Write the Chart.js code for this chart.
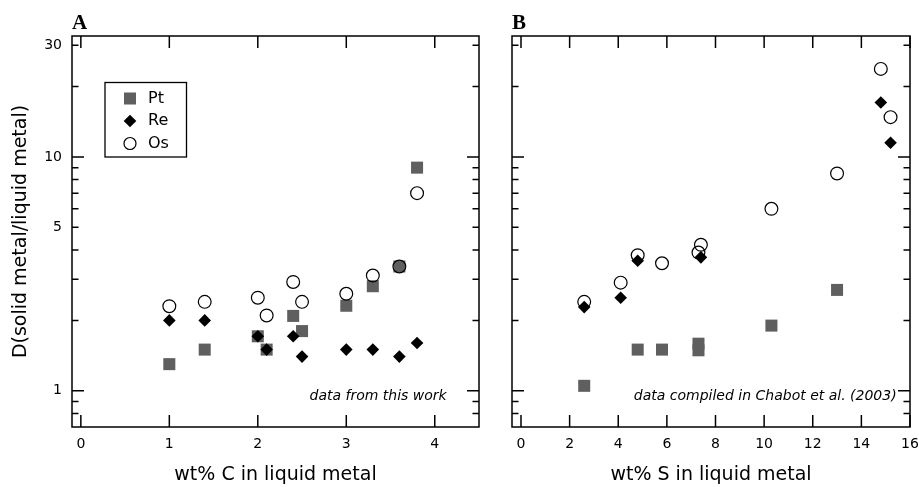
<!DOCTYPE html>
<html>
<head>
<meta charset="utf-8">
<script src="https://cdn.jsdelivr.net/npm/chart.js@4"></script>
<style>
  html, body { margin: 0; padding: 0; background: #fff; }
  #wrap { position: relative; width: 919px; height: 487px; }
  #chartA { position: absolute; left: 0; top: 0; }
  #chartB { position: absolute; left: 440px; top: 0; }
</style>
</head>
<body>
<div id="wrap">
  <canvas id="chartA" width="480" height="487"></canvas>
  <canvas id="chartB" width="479" height="487"></canvas>
</div>
<script>
// ==========================================
// DATA
// ==========================================
const seriesNames = ['Pt', 'Re', 'Os'];

// Panel A: wt% C in liquid metal (this work)
const cPt = [1.0, 1.4, 2.0, 2.1, 2.4, 2.5, 3.0, 3.3, 3.6, 3.8];
const dPtA = [1.30, 1.50, 1.71, 1.50, 2.09, 1.80, 2.31, 2.80, 3.40, 9.0];
const cRe = [1.0, 1.4, 2.0, 2.1, 2.4, 2.5, 3.0, 3.3, 3.6, 3.8];
const dReA = [2.0, 2.0, 1.71, 1.50, 1.71, 1.40, 1.50, 1.50, 1.40, 1.60];
const cOs = [1.0, 1.4, 2.0, 2.1, 2.4, 2.5, 3.0, 3.3, 3.6, 3.8];
const dOsA = [2.30, 2.40, 2.50, 2.10, 2.92, 2.40, 2.60, 3.11, 3.40, 7.0];

// Panel B: wt% S in liquid metal (Chabot et al. 2003)
const sPt = [2.6, 4.8, 5.8, 7.3, 7.3, 10.3, 13.0];
const dPtB = [1.05, 1.50, 1.50, 1.59, 1.49, 1.90, 2.70];
const sRe = [2.6, 4.1, 4.8, 7.4, 14.8, 15.2];
const dReB = [2.28, 2.50, 3.60, 3.72, 17.1, 11.5];
const sOs = [2.6, 4.1, 4.8, 5.8, 7.3, 7.4, 10.3, 13.0, 14.8, 15.2];
const dOsB = [2.40, 2.90, 3.80, 3.51, 3.90, 4.21, 6.0, 8.5, 23.8, 14.8];

// axis ticks
const xTicksA = [0, 1, 2, 3, 4];
const xTicksB = [0, 2, 4, 6, 8, 10, 12, 14, 16];
const yLabelTicks = [1, 5, 10, 30];
const yMajorTicks = [1, 10];
const yMinorTicks = [0.8, 0.9, 2, 3, 4, 5, 6, 7, 8, 9, 20, 30];

const FONT = '"DejaVu Sans", Verdana, sans-serif';

// ==========================================
// PLUGIN: frame, inward ticks, panel letter, note, legend
// ==========================================
const framePlugin = {
    id: 'frame',
    afterDatasetsDraw(chart, args, opts) {
        const { ctx, chartArea: a, scales } = chart;
        const x = scales.x, y = scales.y;
        ctx.save();
        ctx.strokeStyle = '#000';
        ctx.lineWidth = 1.5;
        ctx.strokeRect(a.left, a.top, a.right - a.left, a.bottom - a.top);

        ctx.beginPath();
        opts.xTicks.forEach(v => {
            const px = x.getPixelForValue(v);
            ctx.moveTo(px, a.bottom); ctx.lineTo(px, a.bottom - 12);
            ctx.moveTo(px, a.top); ctx.lineTo(px, a.top + 12);
        });
        const yTick = (v, len) => {
            const py = y.getPixelForValue(v);
            ctx.moveTo(a.left, py); ctx.lineTo(a.left + len, py);
            ctx.moveTo(a.right, py); ctx.lineTo(a.right - len, py);
        };
        yMajorTicks.forEach(v => yTick(v, 12));
        yMinorTicks.forEach(v => yTick(v, 6.5));
        ctx.stroke();

        // panel letter
        ctx.fillStyle = '#000';
        ctx.font = 'bold 21px "Liberation Serif", "Times New Roman", serif';
        ctx.textBaseline = 'alphabetic';
        ctx.textAlign = 'left';
        ctx.fillText(opts.letter, a.left, a.top - 7);

        // source note
        ctx.font = 'italic 14px ' + FONT;
        ctx.textAlign = 'right';
        ctx.textBaseline = 'middle';
        ctx.fillText(opts.note, x.getPixelForValue(opts.noteX), y.getPixelForValue(opts.noteY));

        // legend box
        if (opts.legend) {
            const bx = a.left + 33, by = a.top + 46.5;
            ctx.lineWidth = 1.3;
            ctx.strokeRect(bx, by, 81.5, 74.5);
            ctx.font = '16px ' + FONT;
            ctx.textAlign = 'left';
            chart.data.datasets.forEach((ds, i) => {
                const cy = by + 16 + i * 22.5;
                ctx.fillStyle = ds.backgroundColor;
                ctx.strokeStyle = ds.borderColor;
                ctx.lineWidth = ds.borderWidth;
                Chart.helpers.drawPoint(ctx, {
                    pointStyle: ds.pointStyle,
                    radius: ds.legendRadius,
                    borderWidth: ds.borderWidth,
                    rotation: 0
                }, bx + 25, cy);
                ctx.fillStyle = '#000';
                ctx.fillText(ds.label, bx + 43, cy);
            });
        }
        ctx.restore();
    }
};

function makeDatasets(ptX, ptY, reX, reY, osX, osY) {
    const pts = (xs, ys) => xs.map((v, i) => ({ x: v, y: ys[i] }));
    return [
        { label: seriesNames[0], data: pts(ptX, ptY), pointStyle: 'rect', pointRadius: 8.5,
          legendRadius: 8.5, backgroundColor: '#5f5f5f', borderColor: '#5f5f5f', borderWidth: 0, order: 2 },
        { label: seriesNames[1], data: pts(reX, reY), pointStyle: 'rectRot', pointRadius: 6.3,
          legendRadius: 6.3, backgroundColor: '#000', borderColor: '#000', borderWidth: 0, order: 0 },
        { label: seriesNames[2], data: pts(osX, osY), pointStyle: 'circle', pointRadius: 6.4,
          legendRadius: 6, backgroundColor: 'rgba(255,255,255,0)', borderColor: '#000', borderWidth: 1.2, order: 1 }
    ];
}

function makeChart(id, cfg) {
    const ctx = document.getElementById(id).getContext('2d');
    return new Chart(ctx, {
        type: 'scatter',
        data: { datasets: cfg.datasets },
        options: {
            responsive: false,
            animation: false,
            layout: { autoPadding: false, padding: { top: 36, right: cfg.padRight, bottom: 0, left: 0 } },
            plugins: {
                legend: { display: false },
                tooltip: { enabled: false },
                frame: cfg.frame
            },
            scales: {
                x: {
                    type: 'linear',
                    min: cfg.xMin, max: cfg.xMax,
                    grid: { display: false, drawTicks: false },
                    border: { display: false },
                    afterBuildTicks: s => { s.ticks = cfg.xTicks.map(v => ({ value: v })); },
                    afterFit: s => { s.height = 60; s.paddingLeft = 0; s.paddingRight = 0; },
                    ticks: { font: { family: FONT, size: 14 }, color: '#000', padding: 9, maxRotation: 0 },
                    title: { display: true, text: cfg.xTitle, color: '#000',
                             font: { family: FONT, size: 19 }, padding: { top: 0, bottom: 1 } }
                },
                y: {
                    type: 'logarithmic',
                    min: 0.732, max: 32.9,
                    grid: { display: false, drawTicks: false },
                    border: { display: false },
                    afterBuildTicks: s => { s.ticks = yLabelTicks.map(v => ({ value: v })); },
                    afterFit: s => { s.width = 72; s.paddingTop = 0; s.paddingBottom = 0; },
                    ticks: { display: cfg.yLabels, font: { family: FONT, size: 14 }, color: '#000', padding: 10,
                             callback: v => String(v) },
                    title: { display: cfg.yLabels, text: 'D(solid metal/liquid metal)', color: '#000',
                             font: { family: FONT, size: 19 }, padding: { top: 10, bottom: 0 } }
                }
            }
        },
        plugins: [framePlugin]
    });
}

makeChart('chartA', {
    datasets: makeDatasets(cPt, dPtA, cRe, dReA, cOs, dOsA),
    xMin: -0.1, xMax: 4.5, xTicks: xTicksA, padRight: 1,
    xTitle: 'wt% C in liquid metal', yLabels: true,
    frame: { xTicks: xTicksA, letter: 'A', note: 'data from this work', noteX: 4.135, noteY: 0.943, legend: true }
});

makeChart('chartB', {
    datasets: makeDatasets(sPt, dPtB, sRe, dReB, sOs, dOsB),
    xMin: -0.37, xMax: 16, xTicks: xTicksB, padRight: 9,
    xTitle: 'wt% S in liquid metal', yLabels: false,
    frame: { xTicks: xTicksB, letter: 'B', note: 'data compiled in Chabot et al. (2003)', noteX: 15.45, noteY: 0.943, legend: false }
});
</script>
</body>
</html>
